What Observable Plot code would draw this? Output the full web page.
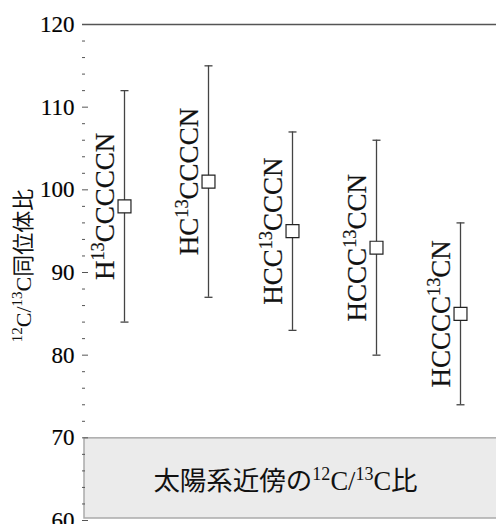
<!DOCTYPE html>
<html>
<head>
<meta charset="utf-8">
<script src="https://cdn.jsdelivr.net/npm/d3@7"></script>
<script src="https://cdn.jsdelivr.net/npm/@observablehq/plot@0.6"></script>
<style>
  html, body { margin: 0; padding: 0; background: #fff; overflow: hidden; }
  #wrap { width: 496px; height: 524px; overflow: hidden; }
  #wrap svg { max-width: none !important; overflow: hidden; }
  #wrap svg text, #wrap svg tspan { font-family: "Liberation Serif", "Noto Sans CJK JP", serif !important; font-variant-numeric: normal !important; }
  #wrap svg text.heavy { stroke: #222; stroke-width: 0.22px; }
</style>
</head>
<body>
<div id="wrap"></div>
<script>
// Data
const molecules = ["H¹³CCCCCN", "HC¹³CCCCN", "HCC¹³CCCN", "HCCC¹³CCN", "HCCCC¹³CN"];
const ratios = [98, 101, 95, 93, 85];
const upper = [112, 115, 107, 106, 96];
const lower = [84, 87, 83, 80, 74];
const majorTicks = [60, 70, 80, 90, 100, 110, 120];
const minorTicks = [62, 64, 66, 68, 72, 74, 76, 78, 82, 84, 86, 88, 92, 94, 96, 98, 102, 104, 106, 108, 112, 114, 116, 118];
const solarBand = [{lo: 60, hi: 70, label: "太陽系近傍の¹²C/¹³C比"}];
const yLabel = "¹²C/¹³C同位体比";

const rows = molecules.map((m, i) => ({name: m, ratio: ratios[i], hi: upper[i], lo: lower[i]}));

const capSymbol = {
  draw(ctx, size) {
    const w = Math.sqrt(size / Math.PI);
    ctx.moveTo(-w, 0);
    ctx.lineTo(w, 0);
  }
};

const serif = "Liberation Serif, Noto Sans CJK JP, serif";

const chart = Plot.plot({
  width: 502,
  height: 524,
  marginLeft: 82,
  marginRight: 0,
  marginTop: 24,
  marginBottom: 4,
  style: {fontFamily: serif, fontSize: "23px", color: "#000", background: "#fff"},
  x: {type: "point", domain: molecules, padding: 0.5, axis: null},
  y: {domain: [60, 120], ticks: majorTicks, label: null, axis: null},
  marks: [
    // solar neighbourhood band
    Plot.rectY(solarBand, {y1: "lo", y2: "hi", fill: "#ebebeb", stroke: "#aaaaaa", strokeWidth: 1.5, insetLeft: 2, insetBottom: 2, insetTop: 0.5}),
    Plot.text(solarBand, {y: d => (d.lo + d.hi) / 2, text: "label", frameAnchor: "middle", textAnchor: "middle", dx: -7, dy: 2, fontSize: 26.5, fill: "#111"}),
    // frame lines
    Plot.ruleX([0], {frameAnchor: "left", stroke: "#555", strokeWidth: 1.3}),
    Plot.ruleY([120], {stroke: "#555", strokeWidth: 1.3}),
    // axis ticks
    Plot.axisY(majorTicks, {anchor: "left", tickSize: -6, fill: "none", stroke: "#555", label: null}),
    Plot.axisY(minorTicks, {anchor: "left", tickSize: -3, fill: "none", stroke: "#555", label: null}),
    Plot.axisY(majorTicks, {anchor: "right", tickSize: -7, fill: "none", stroke: "#777", label: null}),
    Plot.axisY(majorTicks, {anchor: "left", tickSize: 0, tickPadding: 8, stroke: "none", fill: "#000", label: null, fontSize: 23, className: "ticklab"}),
    // y label
    Plot.text([yLabel], {text: d => d, frameAnchor: "left", textAnchor: "middle", rotate: -90, dx: -59, dy: -7, fontSize: 22, fill: "#111"}),
    // error bars
    Plot.ruleX(rows, {x: "name", y1: "lo", y2: "hi", stroke: "#444", strokeWidth: 1.3}),
    Plot.dot(rows, {x: "name", y: "hi", symbol: capSymbol, r: 4, stroke: "#444", strokeWidth: 1.3, fill: "none"}),
    Plot.dot(rows, {x: "name", y: "lo", symbol: capSymbol, r: 4, stroke: "#444", strokeWidth: 1.3, fill: "none"}),
    // points
    Plot.dot(rows, {x: "name", y: "ratio", symbol: "square", r: 7.3, fill: "#fff", stroke: "#222", strokeWidth: 1.2}),
    // molecule labels
    Plot.text(rows, {x: "name", y: "ratio", text: "name", rotate: -90, dx: -19, fontSize: 27, fill: "#111", className: "mollab"})
  ]
});

document.getElementById("wrap").appendChild(chart);

// slightly heavier glyphs for the serif labels (reference uses a heavier serif face)
chart.querySelectorAll(".mollab text, .ticklab text").forEach(t => t.classList.add("heavy"));

// Render superscript digits as real raised, smaller text
const supMap = {"⁰":"0","¹":"1","²":"2","³":"3","⁴":"4","⁵":"5","⁶":"6","⁷":"7","⁸":"8","⁹":"9"};
const supRe = /([⁰¹²³⁴⁵⁶⁷⁸⁹]+)|([^⁰¹²³⁴⁵⁶⁷⁸⁹]+)/g;
chart.querySelectorAll("text").forEach(t => {
  const s = t.textContent;
  if (!/[⁰¹²³⁴⁵⁶⁷⁸⁹]/.test(s)) return;
  const base = parseFloat(getComputedStyle(t).fontSize) || 20;
  const shift = base * 0.38;
  while (t.firstChild) t.removeChild(t.firstChild);
  let raised = false;
  let m;
  supRe.lastIndex = 0;
  while ((m = supRe.exec(s))) {
    const ts = document.createElementNS("http://www.w3.org/2000/svg", "tspan");
    if (m[1]) {
      ts.textContent = [...m[1]].map(c => supMap[c]).join("");
      ts.setAttribute("font-size", (base * 0.68) + "px");
      if (!raised) { ts.setAttribute("dy", (-shift) + "px"); raised = true; }
    } else {
      ts.textContent = m[2];
      if (raised) { ts.setAttribute("dy", shift + "px"); raised = false; }
    }
    t.appendChild(ts);
  }
});
</script>
</body>
</html>
